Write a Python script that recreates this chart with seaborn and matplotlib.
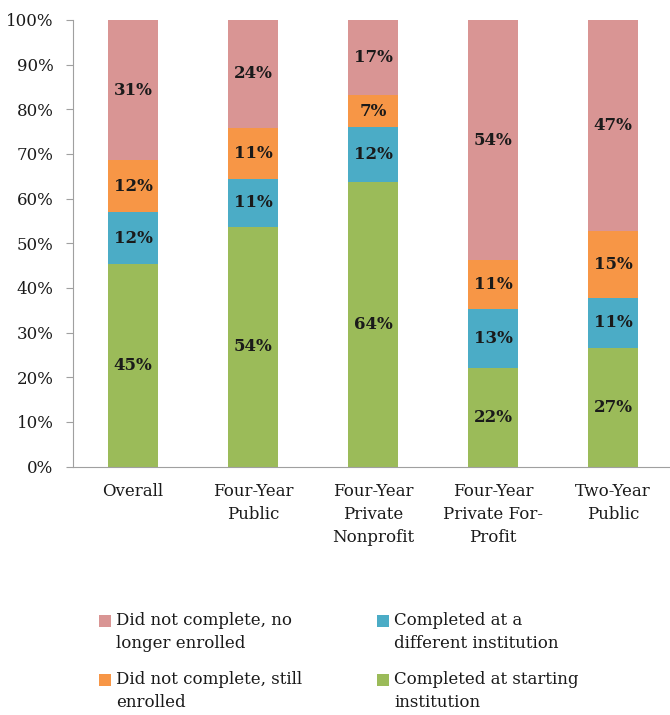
import matplotlib
matplotlib.use("Agg")
import matplotlib.pyplot as plt
import seaborn as sns
import numpy as np
import pandas as pd
from matplotlib.patches import Patch, Rectangle
from matplotlib.legend_handler import HandlerBase

categories = ["Overall", "Four-Year\nPublic", "Four-Year\nPrivate\nNonprofit",
              "Four-Year\nPrivate For-\nProfit", "Two-Year\nPublic"]
completed_start = [45.3, 53.6, 63.7, 22.0, 26.6]
completed_diff = [11.7, 10.9, 12.3, 13.2, 11.2]
still_enrolled = [11.6, 11.4, 7.2, 11.0, 15.0]
no_longer = [31.4, 24.1, 16.8, 53.8, 47.2]

series_names = ["Completed at starting\ninstitution",
                "Completed at a\ndifferent institution",
                "Did not complete, still\nenrolled",
                "Did not complete, no\nlonger enrolled"]
series_vals = [completed_start, completed_diff, still_enrolled, no_longer]
colors = ["#9bbb59", "#4bacc6", "#f79646", "#d99594"]
yticks = [0, 10, 20, 30, 40, 50, 60, 70, 80, 90, 100]

sns.set_style("white")
plt.rcParams["font.family"] = ["DejaVu Serif"]

fig = plt.figure(figsize=(6.7, 7.15), dpi=100)
ax = fig.add_axes([73/670, 1-466.5/715, 600/670, 446.5/715])

vals = np.array(series_vals)
cum = np.cumsum(vals, axis=0)
df = pd.DataFrame({"cat": categories})
# draw from top of stack downward so lower segments overlay
for i in range(len(series_vals) - 1, -1, -1):
    df["v"] = cum[i]
    sns.barplot(data=df, x="cat", y="v", color=colors[i], width=0.41,
                saturation=1, ax=ax, edgecolor="none", linewidth=0)

# segment labels
for i in range(len(series_vals)):
    for j in range(len(categories)):
        bottom = cum[i][j] - vals[i][j]
        ax.text(j, bottom + vals[i][j] / 2, f"{int(round(vals[i][j])):d}%",
                ha="center", va="center", fontsize=12, fontweight="bold",
                color="#1a1a1a")

ax.set_xlim(-0.5, len(categories) - 0.5)
ax.set_ylim(0, 100)
ax.set_yticks(yticks)
ax.set_yticklabels([f"{t}%" for t in yticks])
ax.set_xlabel("")
ax.set_ylabel("")
ax.set_xticks(range(len(categories)))
ax.set_xticklabels(categories, linespacing=1.45)
ax.set_xticks(np.arange(-0.5, len(categories), 1.0), minor=True)
ax.tick_params(axis="x", which="major", length=0, pad=12, labelsize=12, colors="#1a1a1a")
ax.tick_params(axis="x", which="minor", length=5, width=0.8, color="#a0a0a0", direction="out")
ax.tick_params(axis="y", which="major", length=5, width=0.8, color="#a0a0a0",
               direction="out", pad=9, labelsize=12, labelcolor="#1a1a1a", left=True)
for s in ["top", "right"]:
    ax.spines[s].set_visible(False)
for s in ["left", "bottom"]:
    ax.spines[s].set_color("#a0a0a0")
    ax.spines[s].set_linewidth(0.8)


class TopSquare(HandlerBase):
    """Square marker aligned with the first line of a two-line label."""
    def create_artists(self, legend, orig_handle, xdescent, ydescent,
                       width, height, fontsize, trans):
        s = 0.72 * fontsize
        shift = 0.72 * fontsize
        r = Rectangle((-xdescent, -ydescent + (height - s) / 2 + shift), s, s,
                      facecolor=orig_handle.get_facecolor(), edgecolor="none",
                      transform=trans)
        return [r]


handles = [Patch(facecolor=colors[3], label=series_names[3]),
           Patch(facecolor=colors[2], label=series_names[2]),
           Patch(facecolor=colors[1], label=series_names[1]),
           Patch(facecolor=colors[0], label=series_names[0])]
leg = fig.legend(handles=handles, loc="upper left", bbox_to_anchor=(84/670, 1-597/715),
                 ncol=2, frameon=False, fontsize=12, handlelength=0.72, handleheight=0.72,
                 handletextpad=0.3, columnspacing=4.5, labelspacing=1.15,
                 handler_map={Patch: TopSquare()})
for t in leg.get_texts():
    t.set_linespacing(1.45)
    t.set_color("#1a1a1a")

fig.savefig("out.png", dpi=100, facecolor="white")
